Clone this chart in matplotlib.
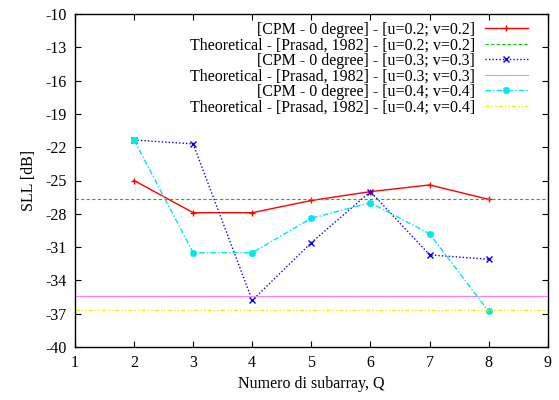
import numpy as np
import matplotlib
matplotlib.use('Agg')
import matplotlib.pyplot as plt

# data
q = [2, 3, 4, 5, 6, 7, 8]
cpm_02 = [-25.0, -27.9, -27.9, -26.8, -26.0, -25.4, -26.7]
cpm_03 = [-21.35, -21.7, -35.8, -30.6, -26.0, -31.7, -32.1]
cpm_04 = [-21.35, -31.5, -31.5, -28.4, -27.0, -29.8, -36.8]
theo_02 = -26.67
theo_03 = -35.45
theo_04 = -36.67

x_range = [1, 9]
y_ticks = [-10, -13, -16, -19, -22, -25, -28, -31, -34, -37, -40]

plt.rcParams['font.family'] = ['Liberation Serif', 'DejaVu Serif']
plt.rcParams['font.size'] = 11.5
plt.rcParams['axes.unicode_minus'] = False

fig = plt.figure(figsize=(5.59, 4.0), dpi=100)
ax = fig.add_axes([0.134, 0.1325, 0.846, 0.8325])

ax.plot(q, cpm_02, color='#ff0000', lw=1, marker='+', ms=5, mew=1,
        label='[CPM - 0 degree] - [u=0.2; v=0.2]')
ax.plot(x_range, [theo_02, theo_02], color='#00d000', lw=0.8, ls=(0, (3, 2)),
        label='Theoretical - [Prasad, 1982] - [u=0.2; v=0.2]')
ax.plot(q, cpm_03, color='#0000ff', lw=1, ls=(0, (1, 1.5)), marker='x', ms=4, mew=1,
        label='[CPM - 0 degree] - [u=0.3; v=0.3]')
ax.plot(x_range, [theo_03, theo_03], color='#ff80ff', lw=0.8,
        label='Theoretical - [Prasad, 1982] - [u=0.3; v=0.3]')
ax.plot(q, cpm_04, color='#00e8e8', lw=1, ls=(0, (4, 1.5, 1, 1.5)), marker=(8, 2, 0), ms=5, mew=1.2,
        label='[CPM - 0 degree] - [u=0.4; v=0.4]')
ax.plot(x_range, [theo_04, theo_04], color='#f0f000', lw=1, ls=(0, (3, 1.5, 1, 1.5, 1, 1.5)),
        label='Theoretical - [Prasad, 1982] - [u=0.4; v=0.4]')

ax.set_xlim(x_range)
ax.set_ylim(-40, -10)
ax.set_xticks(range(1, 10))
ax.set_yticks(y_ticks)
ax.tick_params(direction='in', top=True, right=True, length=4, width=0.8, pad=6)
ax.set_xlabel('Numero di subarray, Q', labelpad=3)
ax.set_ylabel('SLL [dB]', labelpad=6)
for s in ax.spines.values():
    s.set_linewidth(1)

ax.legend(loc='upper right', bbox_to_anchor=(0.958, 0.977), frameon=False, markerfirst=False,
          handlelength=2.7, handletextpad=0.6, labelspacing=-0.03, borderpad=0.0, borderaxespad=0.0)

fig.savefig('out.png', dpi=100)
